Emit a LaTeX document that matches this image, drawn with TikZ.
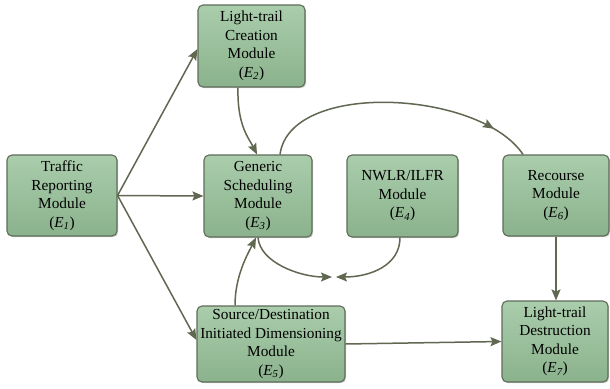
\documentclass[tikz,border=0pt]{standalone}
\usepackage{fontspec}
\setmainfont{Liberation Serif}
\usetikzlibrary{arrows.meta,shadows,decorations.markings}
\definecolor{boxfill}{RGB}{152,190,154}
\definecolor{boxtop}{RGB}{170,205,172}
\definecolor{boxbot}{RGB}{138,178,140}
\definecolor{boxline}{RGB}{95,108,90}
\definecolor{arrcol}{RGB}{96,104,82}
\begin{document}
\begin{tikzpicture}[x=1pt,y=-1pt,
  module/.style={draw=boxline, line width=1.1pt, rounded corners=5pt,
    top color=boxtop, bottom color=boxbot, align=center, inner sep=0pt,
    font=\fontsize{15.3}{18.5}\selectfont,
    drop shadow={shadow xshift=1.2pt, shadow yshift=-1.2pt, opacity=0.35}},
  conn/.style={draw=arrcol, line width=1.5pt, -{Stealth[length=11pt,width=9pt,inset=2pt]}},
  midarrow/.style={draw=arrcol, line width=1.5pt, postaction={decorate},
    decoration={markings, mark=at position #1 with {\arrow{Stealth[length=11pt,width=9pt,inset=2pt]}}}}
]
\useasboundingbox[fill=white] (0,0) rectangle (610,388);

\node[module, minimum width=110pt, minimum height=81pt] (e1) at (62,195.5)
  {Traffic\\Reporting\\Module\\(\textit{E\textsubscript{1}})};
\node[module, minimum width=107pt, minimum height=82pt] (e2) at (251.5,46)
  {Light-trail\\Creation\\Module\\(\textit{E\textsubscript{2}})};
\node[module, minimum width=108pt, minimum height=82pt] (e3) at (258,196)
  {Generic\\Scheduling\\Module\\(\textit{E\textsubscript{3}})};
\node[module, minimum width=111pt, minimum height=82pt] (e4) at (402.5,196)
  {NWLR/ILFR\\Module\\(\textit{E\textsubscript{4}})};
\node[module, minimum width=106pt, minimum height=81pt] (e6) at (556,195.5)
  {Recourse\\Module\\(\textit{E\textsubscript{6}})};
\node[module, minimum width=148pt, minimum height=76pt] (e5) at (271,344)
  {Source/Destination\\Initiated Dimensioning\\Module\\(\textit{E\textsubscript{5}})};
\node[module, minimum width=106pt, minimum height=81pt] (e7) at (555,341.5)
  {Light-trail\\Destruction\\Module\\(\textit{E\textsubscript{7}})};

\coordinate (m1) at (332,277);
\coordinate (m2) at (336,277);

\draw[conn] (e1.east) -- (e2.west |- 0,49);
\draw[conn] (e1.east) -- (e3.west);
\draw[conn] (e1.east) -- (e5.west |- 0,340);

\draw[conn] ([xshift=-13.5pt]e2.south) .. controls +(-1,38) and +(-8,-16) .. ([xshift=-1pt]e3.north);
\draw[midarrow=0.86] ([xshift=22pt]e3.north) .. controls (290,80) and (480,90) .. ([xshift=-33pt]e6.north);
\draw[conn] (e3.south) .. controls +(2,25) and (300,277) .. (m1);
\draw[conn] ([xshift=-2.5pt]e4.south) .. controls +(0,28) and (370,277) .. (m2);
\draw[conn] ([xshift=-36pt]e5.north) .. controls +(0,-30) and +(-8,16) .. ([xshift=-2pt]e3.south);
\draw[conn] (e5.east) -- (e7.west);
\draw[conn] (e6.south) -- (e7.north -| e6.south);
\end{tikzpicture}
\end{document}
